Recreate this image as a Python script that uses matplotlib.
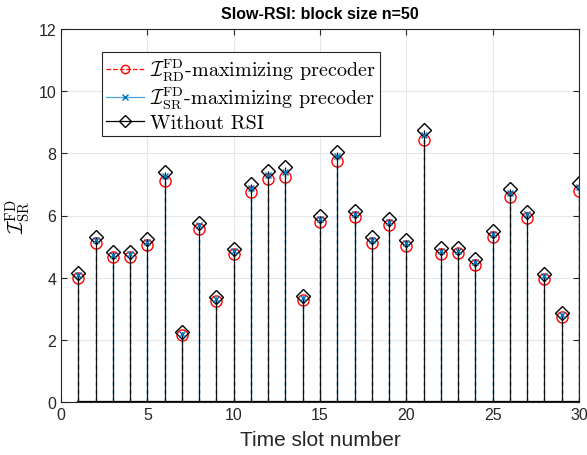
import numpy as np
import matplotlib.pyplot as plt
from matplotlib.lines import Line2D
from matplotlib.legend_handler import HandlerLine2D

plt.rcParams['font.family'] = ['Liberation Sans', 'DejaVu Sans']
plt.rcParams['mathtext.fontset'] = 'cm'

# time slots and values
slots = np.arange(1, 31)
rd_max = [4.00, 5.10, 4.65, 4.68, 5.05, 7.12, 2.15, 5.55, 3.25, 4.75,
          6.75, 7.17, 7.25, 3.28, 5.78, 7.75, 5.95, 5.12, 5.68, 5.03,
          8.42, 4.75, 4.78, 4.42, 5.30, 6.60, 5.92, 3.95, 2.75, 6.80]
sr_max = [4.07, 5.20, 4.72, 4.75, 5.15, 7.27, 2.20, 5.68, 3.30, 4.85,
          6.88, 7.30, 7.40, 3.33, 5.90, 7.90, 6.05, 5.20, 5.80, 5.10,
          8.60, 4.85, 4.85, 4.52, 5.40, 6.72, 6.05, 4.05, 2.80, 6.93]
no_rsi = [4.15, 5.30, 4.82, 4.82, 5.25, 7.40, 2.25, 5.75, 3.38, 4.92,
          7.02, 7.42, 7.55, 3.40, 5.98, 8.05, 6.15, 5.30, 5.90, 5.20,
          8.75, 4.95, 4.95, 4.60, 5.50, 6.85, 6.12, 4.12, 2.85, 7.05]


class EndMarker(HandlerLine2D):
    # line with the marker at its right end, like MATLAB stem legends
    def get_xdata(self, legend, xdescent, ydescent, width, height, fontsize):
        x0 = -xdescent
        return [x0, x0 + width], [x0 + width - 3]


fig = plt.figure(figsize=(5.87, 4.56), dpi=100)
ax = fig.add_axes([61/587, 53/456, 518/587, 373/456])

blue = '#0072BD'
m1, s1, b1 = ax.stem(slots, rd_max, linefmt='r--', markerfmt='ro', basefmt='k-')
m1.set_markerfacecolor('none'); m1.set_markersize(8); m1.set_markeredgewidth(1)
s1.set_linewidth(0.7)
m2, s2, b2 = ax.stem(slots, sr_max, linefmt='-', markerfmt='x', basefmt='k-')
s2.set_color(blue); s2.set_linewidth(1.0); s2.set_linestyle((0, (3, 3)))
m2.set_color(blue); m2.set_markersize(5)
m3, s3, b3 = ax.stem(slots, no_rsi, linefmt='k-', markerfmt='kD', basefmt='k-')
m3.set_markerfacecolor('none'); m3.set_markersize(7); m3.set_markeredgewidth(1)
s3.set_linewidth(0.9); s3.set_color('#111111')
m2.set_zorder(5)

ax.set_xlim(0, 30)
ax.set_ylim(0, 12)
ax.set_xticks(range(0, 31, 5))
ax.set_yticks(range(0, 13, 2))
ax.tick_params(direction='in', labelsize=11.5, top=True, right=True, length=4,
               colors='#262626')
ax.grid(True, color='#e6e6e6', linewidth=0.8)
ax.set_axisbelow(True)
for sp in ax.spines.values():
    sp.set_color('#262626')

ax.set_title('Slow-RSI: block size n=50', fontsize=11.5, fontweight='bold', pad=8)
ax.set_xlabel('Time slot number', fontsize=15, color='#262626', labelpad=6)
ax.set_ylabel(r'$\mathcal{I}_{\mathrm{SR}}^{\mathrm{FD}}$', fontsize=15)

h1 = Line2D([], [], color='r', ls='--', lw=0.9, marker='o', mfc='none', ms=6)
h2 = Line2D([], [], color='#4DA3E0', ls='-', lw=0.9, marker='x', mec=blue, ms=5)
h3 = Line2D([], [], color='k', ls='-', lw=0.9, marker='D', mfc='none', ms=6)
leg = ax.legend([h1, h2, h3],
                [r'$\mathcal{I}_{\mathrm{RD}}^{\mathrm{FD}}$-maximizing precoder',
                 r'$\mathcal{I}_{\mathrm{SR}}^{\mathrm{FD}}$-maximizing precoder',
                 'Without RSI'],
                handler_map={Line2D: EndMarker()},
                loc='upper left', bbox_to_anchor=(0.079, 0.938), borderaxespad=0,
                prop={'family': 'cmr10', 'size': 14.5}, fancybox=False,
                edgecolor='#262626', framealpha=1, handlelength=1.9,
                handletextpad=0.3, borderpad=0.2, labelspacing=0.1)
leg.get_frame().set_linewidth(0.8)

fig.savefig('out.png', dpi=100)
